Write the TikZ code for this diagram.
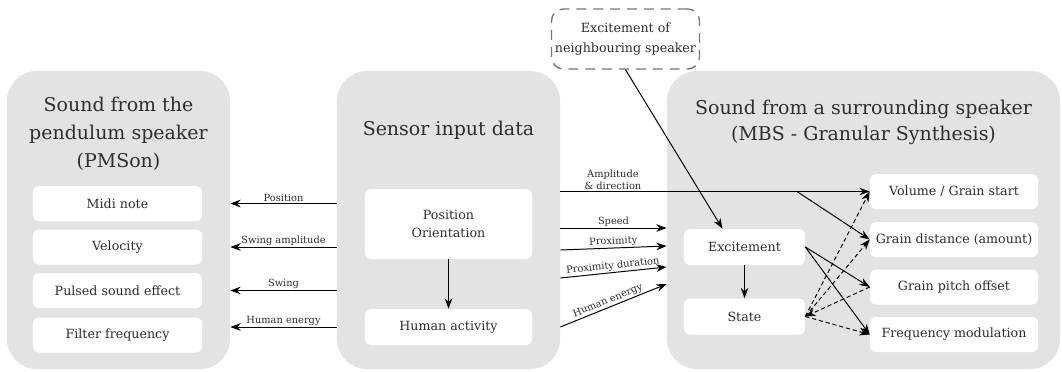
\documentclass[tikz,border=0pt]{standalone}
\usepackage{fontspec}
\setmainfont{DejaVu Serif}
\usetikzlibrary{arrows.meta}
\definecolor{panelgray}{HTML}{E3E3E3}
\definecolor{textgray}{HTML}{2E2E2E}
\definecolor{dashgray}{HTML}{777777}
\begin{document}
\begin{tikzpicture}[x=0.025cm,y=-0.025cm,
        panel/.style={fill=panelgray,rectangle,rounded corners=0.75cm,minimum height=7.45cm},
        item/.style={fill=white,rectangle,rounded corners=0.15cm,minimum height=0.875cm,text=textgray,font=\fontsize{9}{11}\selectfont,inner sep=1pt},
        title/.style={text=textgray,align=center,font=\fontsize{13.5}{20}\selectfont},
        lbl/.style={text=textgray,font=\fontsize{7}{8.5}\selectfont,inner sep=0.8pt},
        arr/.style={line width=0.7pt,-{Stealth[length=2.6mm,width=1.9mm]}},
        dasharr/.style={arr,dash pattern=on 3pt off 2pt}]
        \useasboundingbox (0,0) rectangle (1062,371);
        %% Panels
        \node[panel,minimum width=5.575cm] (pmson) at (118.5,220) {};
        \node[panel,minimum width=5.575cm] (sensor) at (448.5,220) {};
        \node[panel,minimum width=9.825cm] (mbs) at (863.5,220) {};
        \node[title] (pmsontitle) at (118.5,134) {Sound from the\\pendulum speaker\\(PMSon)};
        \node[title] (sensortitle) at (448.5,130) {Sensor input data};
        \node[title,font=\fontsize{13.5}{18.5}\selectfont] (mbstitle) at (863.5,122) {Sound from a surrounding speaker\\(MBS - Granular Synthesis)};
        %% Pendulum speaker parameters
        \node[item,minimum width=4.225cm] (midi) at (117.5,203.5) {Midi note};
        \node[item,minimum width=4.225cm] (velocity) at (117.5,247) {Velocity};
        \node[item,minimum width=4.225cm] (pulsed) at (117.5,290.5) {Pulsed sound effect};
        \node[item,minimum width=4.225cm] (filter) at (117.5,335) {Filter frequency};
        %% Sensor data
        \node[item,minimum width=4.175cm,minimum height=1.75cm,align=center,font=\fontsize{9}{12.8}\selectfont] (posor) at (448.5,224) {Position\\Orientation};
        \node[item,minimum width=4.175cm,minimum height=0.9cm] (humact) at (448.5,327) {Human activity};
        %% Surrounding speaker
        \node[item,minimum width=3.025cm,minimum height=0.9cm] (excite) at (744.5,247) {Excitement};
        \node[item,minimum width=3.025cm,minimum height=0.9cm] (state) at (744.5,316.5) {State};
        \node[item,minimum width=4.2cm] (volume) at (954,191.5) {Volume / Grain start};
        \node[item,minimum width=4.2cm] (distance) at (954,239.5) {Grain distance (amount)};
        \node[item,minimum width=4.2cm] (pitch) at (954,287) {Grain pitch offset};
        \node[item,minimum width=4.2cm] (freqmod) at (954,334.5) {Frequency modulation};
        \node[draw=dashgray,dash pattern=on 7pt off 5pt,line width=1pt,rounded corners=0.3cm,minimum width=3.7cm,minimum height=1.5cm,align=center,text=textgray,font=\fontsize{9}{14}\selectfont,inner sep=0pt] (neigh) at (625.5,39) {Excitement of\\neighbouring speaker};
        %% Inlets
        \coordinate (speedout) at (sensor.east |- 0,228);
        \coordinate (proxout) at (sensor.east |- 0,250);
        \coordinate (durout) at (sensor.east |- 0,278);
        \coordinate (speedin) at (mbs.west |- 0,228);
        \coordinate (proxin) at (mbs.west |- 0,246);
        \coordinate (durin) at (mbs.west |- 0,267);
        \coordinate (energyin) at (mbs.west |- 0,284);
        %% Pendulum speaker inputs
        \draw[arr] (sensor.west |- midi) -- (pmson.east |- midi) node[lbl,midway,above] {Position};
        \draw[arr] (sensor.west |- velocity) -- (pmson.east |- velocity) node[lbl,midway,above] {Swing amplitude};
        \draw[arr] (sensor.west |- pulsed) -- (pmson.east |- pulsed) node[lbl,midway,above] {Swing};
        \draw[arr] (sensor.west |- humact) -- (pmson.east |- humact) node[lbl,midway,above] {Human energy};
        %% Surrounding speaker inputs
        \draw[arr] (sensor.east |- volume) -- (volume.west) node[lbl,pos=0.17,above,align=center,font=\fontsize{7}{9}\selectfont] {Amplitude\\\& direction} coordinate[pos=0.765] (split);
        \draw[arr] (split) -- (distance.west);
        \draw[arr] (speedout) -- (speedin) node[lbl,midway,above] {Speed};
        \draw[arr] (proxout) -- (proxin) node[lbl,midway,above,sloped] {Proximity};
        \draw[arr] (durout) -- (durin) node[lbl,midway,above,sloped] {Proximity duration};
        \draw[arr] (sensor.east |- humact) -- (energyin) node[lbl,pos=0.47,above,sloped] {Human energy};
        %% Internal links
        \draw[arr] (posor) -- (humact);
        \draw[arr] (neigh.south) -- ([xshift=-0.55cm]excite.north);
        \draw[arr] (excite) -- (state);
        \draw[arr] (excite.east) -- (pitch.west);
        \draw[arr] (excite.east) -- (freqmod.west);
        \draw[dasharr] (state.east) -- (volume.west);
        \draw[dasharr] (state.east) -- (distance.west);
        \draw[dasharr] (pitch.west) -- (state.east);
        \draw[dasharr] (state.east) -- (freqmod.west);
    \end{tikzpicture}
\end{document}
